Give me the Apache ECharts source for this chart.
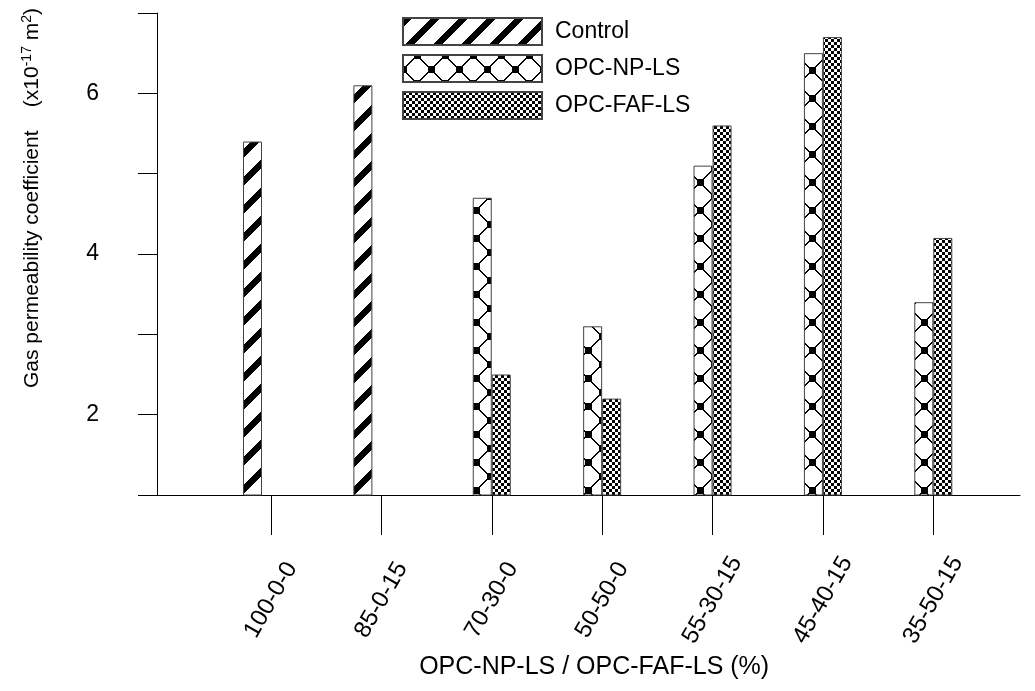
<!DOCTYPE html>
<html><head><meta charset="utf-8">
<script src="https://cdn.jsdelivr.net/npm/echarts@6/dist/echarts.min.js"></script>
<style>html,body{margin:0;padding:0;background:#fff}#c{width:1035px;height:691px}</style>
</head><body><div id="c"></div>
<script>
const categories = ['100-0-0', '85-0-15', '70-30-0', '50-50-0', '55-30-15', '45-40-15', '35-50-15'];
const controlValues = [5.4, 6.1, null, null, null, null, null];
const npValues = [null, null, 4.7, 3.1, 5.1, 6.5, 3.4];
const fafValues = [null, null, 2.5, 2.2, 5.6, 6.7, 4.2];
const yLabelTicks = [2, 4, 6];
const seriesNames = ['Control', 'OPC-NP-LS', 'OPC-FAF-LS'];

const mod = (a, n) => ((a % n) + n) % n;
function makeTile(size, fn) {
  const c = document.createElement('canvas');
  c.width = size; c.height = size;
  const ctx = c.getContext('2d');
  ctx.fillStyle = '#fff'; ctx.fillRect(0, 0, size, size);
  ctx.fillStyle = '#000';
  for (let y = 0; y < size; y++) for (let x = 0; x < size; x++) if (fn(x, y)) ctx.fillRect(x, y, 1, 1);
  return c;
}
const stripeTile = makeTile(28, (x, y) => mod(x + y, 28) < 9);
const latticeTile = makeTile(28, (x, y) => {
  const a = mod(x + y, 28), b = mod(x - y, 28);
  if (a === 13 || a === 14 || b === 13 || b === 14) return true;
  const cx0 = Math.min(mod(x, 28), 28 - mod(x, 28));
  const cy0 = Math.min(mod(y, 28), 28 - mod(y, 28));
  if (cx0 <= 3 && Math.abs(y - 14) <= 3) return true;
  if (Math.abs(x - 14) <= 3 && cy0 <= 3) return true;
  return false;
});
const checkerTile = makeTile(6, (x, y) => (Math.floor(x / 3) + Math.floor(y / 3)) % 2 === 0);

const font = '"Liberation Sans", Arial, sans-serif';
const chart = echarts.init(document.getElementById('c'), null, { renderer: 'canvas' });
const barBorder = { borderColor: '#444', borderWidth: 1 };

chart.setOption({
  animation: false,
  backgroundColor: '#fff',
  textStyle: { fontFamily: font, color: '#000' },
  grid: [
    { left: 157, right: 15, top: 13, bottom: 196 },
    { left: 215.8, right: 46.5, top: 13, bottom: 196 },
    { left: 197.3, right: 65, top: 13, bottom: 196 }
  ],
  xAxis: [
    { gridIndex: 0, type: 'value', min: 0, max: 1,
      axisLine: { show: true, lineStyle: { color: '#000', width: 1 } },
      axisTick: { show: false }, axisLabel: { show: false }, splitLine: { show: false } },
    { gridIndex: 1, type: 'category', data: categories,
      axisLine: { show: false },
      axisTick: { show: true, alignWithLabel: true, length: 40, lineStyle: { color: '#000', width: 1 } },
      axisLabel: { interval: 0, rotate: 60, align: 'center', verticalAlign: 'middle', margin: 105,
        fontSize: 24, color: '#000', fontFamily: font },
      splitLine: { show: false },
      name: 'OPC-NP-LS / OPC-FAF-LS (%)', nameLocation: 'middle', nameGap: 159,
      nameTextStyle: { fontSize: 25, color: '#000', fontFamily: font, padding: [0, 16, 0, 0] } },
    { gridIndex: 2, type: 'category', data: categories, show: false }
  ],
  yAxis: [
    { gridIndex: 0, type: 'value', min: 1, max: 7, interval: 1,
      axisLine: { show: true, lineStyle: { color: '#000', width: 1 } },
      axisTick: { show: true, length: 19, lineStyle: { color: '#000', width: 1 } },
      axisLabel: { margin: 58, fontSize: 23, color: '#000', fontFamily: font,
        formatter: v => yLabelTicks.includes(v) ? String(v) : '' },
      splitLine: { show: false },
      name: 'Gas permeability coefficient    (x10{sup|-17} m{sup|2})',
      nameLocation: 'middle', nameGap: 112,
      nameTextStyle: { fontSize: 21, color: '#000', fontFamily: font, lineHeight: 25,
        padding: [0, 0, 0, 112],
        rich: { sup: { fontSize: 14, fontFamily: font, color: '#000', verticalAlign: 'top', lineHeight: 14 } } } },
    { gridIndex: 1, type: 'value', min: 1, max: 7, show: false },
    { gridIndex: 2, type: 'value', min: 1, max: 7, show: false }
  ],
  legend: {
    data: seriesNames, orient: 'vertical', left: 402, top: 17, padding: 0,
    itemWidth: 139, itemHeight: 27, itemGap: 8, icon: 'rect', selectedMode: false,
    textStyle: { fontSize: 23, lineHeight: 27, color: '#000', fontFamily: font, padding: [0, 0, 0, 8] }
  },
  series: [
    { name: seriesNames[0], type: 'bar', xAxisIndex: 2, yAxisIndex: 2, data: controlValues, barWidth: 19,
      itemStyle: Object.assign({ color: { image: stripeTile, repeat: 'repeat' } }, barBorder) },
    { name: seriesNames[1], type: 'bar', xAxisIndex: 1, yAxisIndex: 1, data: npValues, barWidth: 19, barGap: '0%',
      itemStyle: Object.assign({ color: { image: latticeTile, repeat: 'repeat' } }, barBorder) },
    { name: seriesNames[2], type: 'bar', xAxisIndex: 1, yAxisIndex: 1, data: fafValues, barWidth: 19, barGap: '0%',
      itemStyle: Object.assign({ color: { image: checkerTile, repeat: 'repeat' } }, barBorder) }
  ]
});
</script></body></html>
